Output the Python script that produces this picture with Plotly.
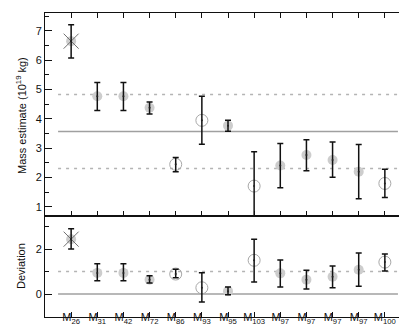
import plotly.graph_objects as go

labels = ["26", "31", "42", "72", "86", "93", "95", "103", "97", "97", "97", "97", "100"]
kinds = ["x", "filled", "filled", "filled", "open", "open", "filled", "open",
         "filled", "filled", "filled", "filled", "open"]

mass_val = [6.65, 4.77, 4.77, 4.38, 2.45, 3.95, 3.77, 1.71, 2.41, 2.77, 2.60, 2.20, 1.80]
mass_hi = [7.21, 5.24, 5.24, 4.58, 2.68, 4.77, 3.95, 2.88, 3.16, 3.29, 3.21, 3.13, 2.28]
mass_lo = [6.08, 4.29, 4.29, 4.17, 2.20, 3.14, 3.58, 0.40, 1.65, 2.23, 2.01, 1.28, 1.32]

dev_val = [2.44, 0.94, 0.94, 0.64, 0.89, 0.28, 0.13, 1.50, 0.92, 0.64, 0.77, 1.08, 1.42]
dev_hi = [2.90, 1.35, 1.35, 0.81, 1.10, 0.95, 0.31, 2.44, 1.51, 1.06, 1.25, 1.83, 1.78]
dev_lo = [2.00, 0.59, 0.59, 0.49, 0.72, -0.35, -0.03, 0.54, 0.31, 0.22, 0.28, 0.35, 1.03]

mass_mean = [3.57]
mass_band = [4.83, 2.31]
dev_mean = [0.0]
dev_band = [1.0]

xs = list(range(len(labels)))
ticktext = ["M<sub>%s</sub>" % l for l in labels]

W, H = 407, 330
ML, MR, MT, MB = 37, 4, 5, 21
PH = H - MT - MB
split = (309 - 208) / PH

fig = go.Figure()

GRAY_FILL = "#cdcdcd"
GRAY_LINE = "#a8a8a8"
line_x = [-0.5, 12.5]


def add_panel(vals, his, los, xa, ya, mean_vals, band_vals):
    for m in mean_vals:
        fig.add_trace(go.Scatter(x=line_x, y=[m, m], mode="lines", xaxis=xa, yaxis=ya,
                                 line=dict(color="#a0a0a0", width=1.6), hoverinfo="skip"))
    for b in band_vals:
        fig.add_trace(go.Scatter(x=line_x, y=[b, b], mode="lines", xaxis=xa, yaxis=ya,
                                 line=dict(color="#b4b4b4", width=1.4, dash="3px,5px"),
                                 hoverinfo="skip"))
    fx = [x for x, k in zip(xs, kinds) if k in ("filled", "x")]
    fy = [v for v, k in zip(vals, kinds) if k in ("filled", "x")]
    fig.add_trace(go.Scatter(x=fx, y=fy, mode="markers", xaxis=xa, yaxis=ya,
                             marker=dict(symbol="circle", size=10, color=GRAY_FILL,
                                         line=dict(width=0))))
    ox = [x for x, k in zip(xs, kinds) if k == "open"]
    oy = [v for v, k in zip(vals, kinds) if k == "open"]
    fig.add_trace(go.Scatter(x=ox, y=oy, mode="markers", xaxis=xa, yaxis=ya,
                             marker=dict(symbol="circle-open", size=12, color=GRAY_LINE,
                                         line=dict(width=1))))
    xx = [x for x, k in zip(xs, kinds) if k == "x"]
    xy = [v for v, k in zip(vals, kinds) if k == "x"]
    fig.add_trace(go.Scatter(x=xx, y=xy, mode="markers", xaxis=xa, yaxis=ya,
                             marker=dict(symbol="x-thin-open", size=15, color="#707070",
                                         line=dict(width=1, color="#707070"))))
    fig.add_trace(go.Scatter(
        x=xs, y=vals, mode="markers", xaxis=xa, yaxis=ya,
        marker=dict(size=2, color="#222222"),
        error_y=dict(type="data", symmetric=False,
                     array=[h - v for h, v in zip(his, vals)],
                     arrayminus=[v - l for v, l in zip(vals, los)],
                     color="#111111", thickness=1.5, width=3)))


add_panel(mass_val, mass_hi, mass_lo, "x", "y", mass_mean, mass_band)
add_panel(dev_val, dev_hi, dev_lo, "x2", "y2", dev_mean, dev_band)

FONT = "Liberation Sans, Arial, sans-serif"
axis_common = dict(showgrid=False, zeroline=False, showline=True, linecolor="#111111",
                   linewidth=1, ticks="inside", tickcolor="#111111",
                   tickfont=dict(family=FONT, size=11, color="#111111"))

fig.update_layout(
    width=W, height=H, margin=dict(l=ML, r=MR, t=MT, b=MB),
    paper_bgcolor="white", plot_bgcolor="white", showlegend=False,
    font=dict(family=FONT, color="#111111"),
    xaxis=dict(axis_common, domain=[0, 1], range=[-1, 13], tickvals=xs,
               showticklabels=False, mirror="ticks", ticklen=5, anchor="y"),
    yaxis=dict(axis_common, domain=[split, 1], range=[0.69, 7.61],
               tickvals=[1, 2, 3, 4, 5, 6, 7],
               mirror="ticks", ticklen=7, anchor="x",
               minor=dict(dtick=0.5, tick0=0, ticklen=4, ticks="inside", tickcolor="#111111")),
    xaxis2=dict(axis_common, domain=[0, 1], range=[-1, 13], tickvals=xs, ticktext=ticktext,
                mirror=True, ticklen=5, anchor="y2", ticklabelstandoff=-10,
                tickfont=dict(family=FONT, size=11, color="#111111")),
    yaxis2=dict(axis_common, domain=[0, split], range=[-1.02, 3.47],
                tickvals=[0, 2],
                mirror="ticks", ticklen=7, anchor="x2",
                minor=dict(dtick=1, tick0=0, ticklen=4, ticks="inside", tickcolor="#111111")),
)

title_font = dict(family=FONT, size=11, color="#111111")
fig.add_annotation(text="Mass estimate (10<sup>19</sup> kg)", xref="paper", yref="paper",
                   x=(13 - ML) / (W - ML - MR), y=1 - (108 - MT) / PH, textangle=-90,
                   showarrow=False, xanchor="center", yanchor="middle", font=title_font)
fig.add_annotation(text="Deviation", xref="paper", yref="paper",
                   x=(13 - ML) / (W - ML - MR), y=1 - (258 - MT) / PH, textangle=-90,
                   showarrow=False, xanchor="center", yanchor="middle", font=title_font)

fig.write_html("out.html")
